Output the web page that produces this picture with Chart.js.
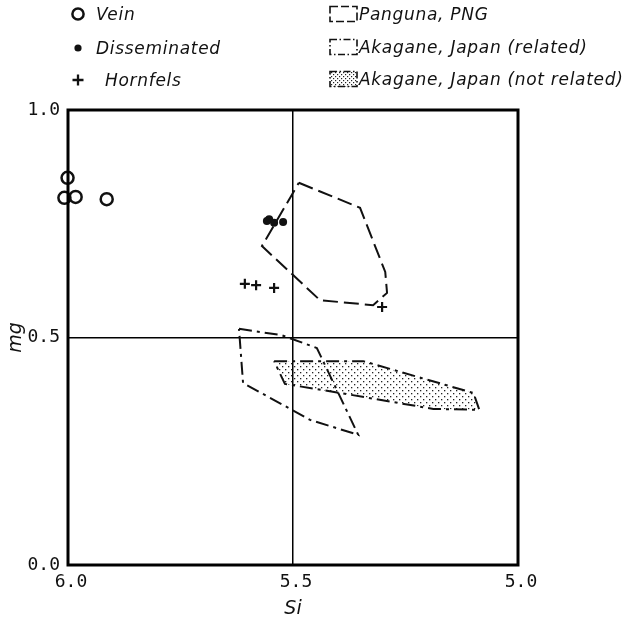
<!DOCTYPE html>
<html>
<head>
<meta charset="utf-8">
<script src="https://cdn.jsdelivr.net/npm/chart.js@4/dist/chart.umd.min.js"></script>
<style>
  html, body { margin:0; padding:0; background:#fff; }
  #wrap { position:relative; width:631px; height:617px; }
  #chart { position:absolute; left:0; top:0; }
  .lg { position:absolute; font-family:"DejaVu Sans", sans-serif; font-style:italic; font-size:17px; color:#111; letter-spacing:0.7px; white-space:nowrap; line-height:18px; }
  .sym { position:absolute; }
</style>
</head>
<body>
<div id="wrap">
  <canvas id="chart" width="631" height="617"></canvas>

  <svg class="sym" style="left:69px;top:5px" width="18" height="18"><circle cx="9" cy="9" r="5.6" fill="none" stroke="#111" stroke-width="2.5"/></svg>
  <div class="lg" style="left:96px;top:5px">Vein</div>
  <svg class="sym" style="left:69px;top:39px" width="18" height="18"><circle cx="9" cy="9" r="3.6" fill="#111"/></svg>
  <div class="lg" style="left:96px;top:39px">Disseminated</div>
  <svg class="sym" style="left:69px;top:71px" width="18" height="18"><path d="M9 3.5V14.5M3.5 9H14.5" stroke="#111" stroke-width="2.3"/></svg>
  <div class="lg" style="left:105px;top:71px">Hornfels</div>

  <svg class="sym" style="left:329px;top:5px" width="30" height="19"><rect x="1" y="1.5" width="27" height="15" fill="none" stroke="#111" stroke-width="1.6" stroke-dasharray="8 3"/></svg>
  <div class="lg" style="left:359px;top:5px">Panguna, PNG</div>
  <svg class="sym" style="left:329px;top:38px" width="30" height="19"><rect x="1" y="1.5" width="27" height="15" fill="none" stroke="#111" stroke-width="1.6" stroke-dasharray="7 2.5 1.5 2.5"/></svg>
  <div class="lg" style="left:359px;top:38px">Akagane, Japan (related)</div>
  <svg class="sym" style="left:329px;top:70px" width="30" height="19">
    <defs><pattern id="dots" width="4" height="4" patternUnits="userSpaceOnUse"><rect x="0" y="0" width="1.2" height="1.2" fill="#222"/><rect x="2" y="2" width="1.2" height="1.2" fill="#222"/></pattern></defs>
    <rect x="1" y="1.5" width="27" height="15" fill="url(#dots)" stroke="#111" stroke-width="1.6" stroke-dasharray="7 2.5 1.5 2.5"/>
  </svg>
  <div class="lg" style="left:359px;top:70px">Akagane, Japan (not related)</div>
</div>

<script>
// Si (x) and mg (y) values
const VEIN_SI = [6.030, 6.001, 6.008, 5.983, 5.914];
const VEIN_MG = [0.851, 0.851, 0.807, 0.809, 0.804];

const DISS_SI = [5.553, 5.542, 5.522, 5.558];
const DISS_MG = [0.760, 0.752, 0.754, 0.756];

const HORN_SI = [5.607, 5.582, 5.542, 5.302];
const HORN_MG = [0.618, 0.615, 0.609, 0.567];

// outline fields (closed polygons)
const PANGUNA_SI = [5.487, 5.351, 5.295, 5.291, 5.322, 5.440, 5.569, 5.487];
const PANGUNA_MG = [0.840, 0.785, 0.644, 0.598, 0.571, 0.582, 0.701, 0.840];

const AKA_REL_SI = [5.620, 5.525, 5.447, 5.355, 5.462, 5.611, 5.620];
const AKA_REL_MG = [0.519, 0.505, 0.477, 0.286, 0.319, 0.400, 0.519];

const AKA_NOT_SI = [5.542, 5.344, 5.099, 5.086, 5.188, 5.395, 5.518, 5.542];
const AKA_NOT_MG = [0.448, 0.448, 0.378, 0.341, 0.343, 0.378, 0.398, 0.448];

const TICK_STEP = 0.5;

function pts(xs, ys){ return xs.map((x,i)=>({x:x, y:ys[i]})); }

function stipple(){
  const c = document.createElement('canvas');
  c.width = 6; c.height = 6;
  const g = c.getContext('2d');
  g.fillStyle = '#222';
  g.fillRect(0,0,1.3,1.3);
  g.fillRect(3,3,1.3,1.3);
  return g.createPattern(c, 'repeat');
}

const frame = {
  id: 'frame',
  afterDatasetsDraw(chart){
    const a = chart.chartArea, ctx = chart.ctx;
    ctx.save();
    ctx.strokeStyle = '#000';
    ctx.lineWidth = 3;
    ctx.strokeRect(a.left, a.top, a.right - a.left, a.bottom - a.top);
    ctx.restore();
  }
};

const ink = '#111';
const tickFont = { family: '"DejaVu Sans Mono", monospace', size: 18 };
const titleFont = { family: '"DejaVu Sans", sans-serif', size: 19, style: 'italic', lineHeight: 0.8 };

new Chart(document.getElementById('chart'), {
  type: 'scatter',
  data: {
    datasets: [
      { label:'Vein', data: pts(VEIN_SI, VEIN_MG), pointStyle:'circle', pointRadius:6, borderColor:ink, borderWidth:2.5, backgroundColor:'rgba(0,0,0,0)', clip:false, order:1 },
      { label:'Disseminated', data: pts(DISS_SI, DISS_MG), pointStyle:'circle', pointRadius:4, borderWidth:0, backgroundColor:ink, order:1 },
      { label:'Hornfels', data: pts(HORN_SI, HORN_MG), pointStyle:'cross', pointRadius:5, borderColor:ink, borderWidth:2.2, order:1 },
      { label:'Panguna, PNG', data: pts(PANGUNA_SI, PANGUNA_MG), showLine:true, pointRadius:0, borderColor:ink, borderWidth:2, borderDash:[15,6], fill:false, order:2 },
      { label:'Akagane, Japan (related)', data: pts(AKA_REL_SI, AKA_REL_MG), showLine:true, pointRadius:0, borderColor:ink, borderWidth:2, borderDash:[13,5,3,5], fill:false, order:2 },
      { label:'Akagane, Japan (not related)', data: pts(AKA_NOT_SI, AKA_NOT_MG), showLine:true, pointRadius:0, borderColor:ink, borderWidth:2, borderDash:[13,5,3,5], backgroundColor: stipple(), fill:'shape', order:3 }
    ]
  },
  options: {
    responsive:false,
    animation:false,
    layout:{ padding:{ top:110, right:113, left:0, bottom:0 } },
    plugins:{ legend:{ display:false }, tooltip:{ enabled:false } },
    scales:{
      x:{
        type:'linear', reverse:true, min:5.0, max:6.0,
        afterFit(s){ s.height = 52; },
        ticks:{ stepSize:TICK_STEP, callback:v=>v.toFixed(1), font:tickFont, color:ink, padding:7, labelOffset:3, maxRotation:0 },
        grid:{ drawTicks:false, color:'#000', lineWidth:c=> (c.tick && c.tick.value === 5.5) ? 1.5 : 0 },
        border:{ display:false },
        title:{ display:true, text:'Si', font:titleFont, color:ink, padding:0 }
      },
      y:{
        type:'linear', min:0, max:1.0,
        afterFit(s){ s.width = 68; },
        ticks:{ stepSize:TICK_STEP, callback:v=>v.toFixed(1), font:tickFont, color:ink, padding:8 },
        grid:{ drawTicks:false, color:'#000', lineWidth:c=> (c.tick && c.tick.value === 0.5) ? 1.5 : 0 },
        border:{ display:false },
        title:{ display:true, text:'mg', font:{ family:'"DejaVu Sans", sans-serif', size:19, style:'italic', lineHeight:1.2 }, color:ink, padding:{ top:5, bottom:0 } }
      }
    }
  },
  plugins:[frame]
});
</script>
</body>
</html>
